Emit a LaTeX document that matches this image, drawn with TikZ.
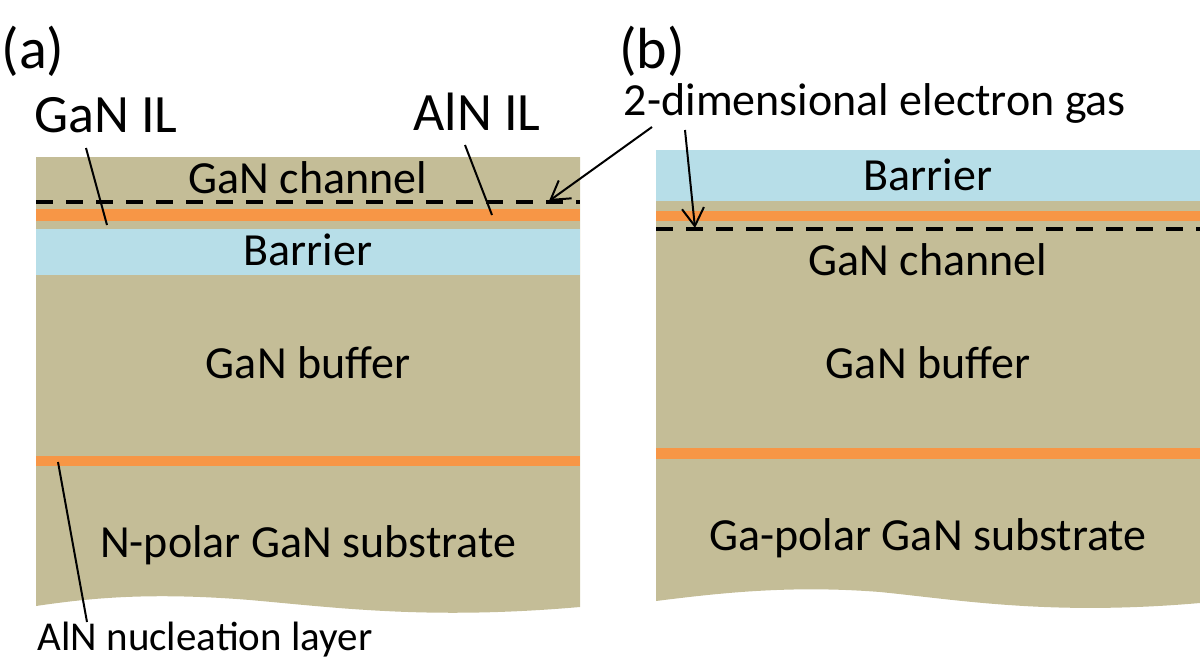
\documentclass[tikz,border=0pt]{standalone}
\usepackage{fontspec}
\setmainfont{Carlito}
\usetikzlibrary{arrows.meta}

\definecolor{gantan}{HTML}{C4BD97}
\definecolor{barrierblue}{HTML}{B7DEE8}
\definecolor{ilorange}{HTML}{F79646}

\begin{document}
\begin{tikzpicture}[x=0.5pt,y=-0.5pt,
  layertext/.style={anchor=base,font=\fontsize{23}{27}\selectfont},
  iltext/.style={anchor=base,font=\fontsize{27}{32}\selectfont},
  paneltext/.style={anchor=base,font=\fontsize{29}{34}\selectfont},
  pointer/.style={line width=1pt},
  gasline/.style={line width=2.2pt,dash pattern=on 8.5pt off 6.5pt},
  gasarrow/.style={line width=1pt,-{Straight Barb[length=9pt,width=11pt]}}]
\useasboundingbox (0,0) rectangle (1200,670);
\fill[gantan] (36,157) -- (580,157) -- (580,607)
  .. controls (430,620) and (340,608) .. (250,600)
  .. controls (150,592) and (90,598) .. (36,606) -- cycle;
\fill[ilorange] (36,209) rectangle (580,221);
\fill[barrierblue] (36,229) rectangle (580,275);
\fill[ilorange] (36,456) rectangle (580,466);
\draw[gasline] (36,202) -- (580,202);
\fill[gantan] (656,150) -- (1200,150) -- (1200,603)
  .. controls (1050,616) and (960,600) .. (880,592)
  .. controls (790,585) and (720,593) .. (656,601) -- cycle;
\fill[barrierblue] (656,150) rectangle (1200,201);
\fill[ilorange] (656,211) rectangle (1200,221);
\fill[ilorange] (656,448) rectangle (1200,459);
\draw[gasline] (656,229) -- (1200,229);
\node[paneltext] (panela) at (33,68) {(a)};
\node[paneltext] (panelb) at (652,68) {(b)};
\node[layertext] (chana) at (308,193) {GaN channel};
\node[layertext] (barra) at (308,265) {Barrier};
\node[layertext] (bufa) at (308,378) {GaN buffer};
\node[layertext] (suba) at (308,557) {N-polar GaN substrate};
\node[layertext] (barrb) at (928,190) {Barrier};
\node[layertext] (chanb) at (928,275) {GaN channel};
\node[layertext] (bufb) at (928,378) {GaN buffer};
\node[layertext] (subb) at (928,550) {Ga-polar GaN substrate};
\node[iltext] (ganil) at (106,132) {GaN IL};
\node[iltext] (alnil) at (477,130) {AlN IL};
\node[layertext] (gas) at (875,115) {2-dimensional electron gas};
\node[anchor=base,font=\fontsize{20.5}{24}\selectfont] (nucl) at (205,650) {AlN nucleation layer};
\coordinate (ganil-top) at (86,148);
\coordinate (ganil-end) at (107,225);
\coordinate (alnil-top) at (465,145);
\coordinate (alnil-end) at (492,215);
\coordinate (nucl-top) at (58,462);
\coordinate (nucl-end) at (87,622);
\coordinate (gas-left) at (652,127);
\coordinate (gas-down) at (685,130);
\coordinate (gas-a) at (549,201);
\coordinate (gas-b) at (695,228);
\draw[pointer] (ganil-top) -- (ganil-end);
\draw[pointer] (alnil-top) -- (alnil-end);
\draw[pointer] (nucl-top) -- (nucl-end);
\draw[gasarrow] (gas-left) -- (gas-a);
\draw[gasarrow] (gas-down) -- (gas-b);
\end{tikzpicture}
\end{document}
